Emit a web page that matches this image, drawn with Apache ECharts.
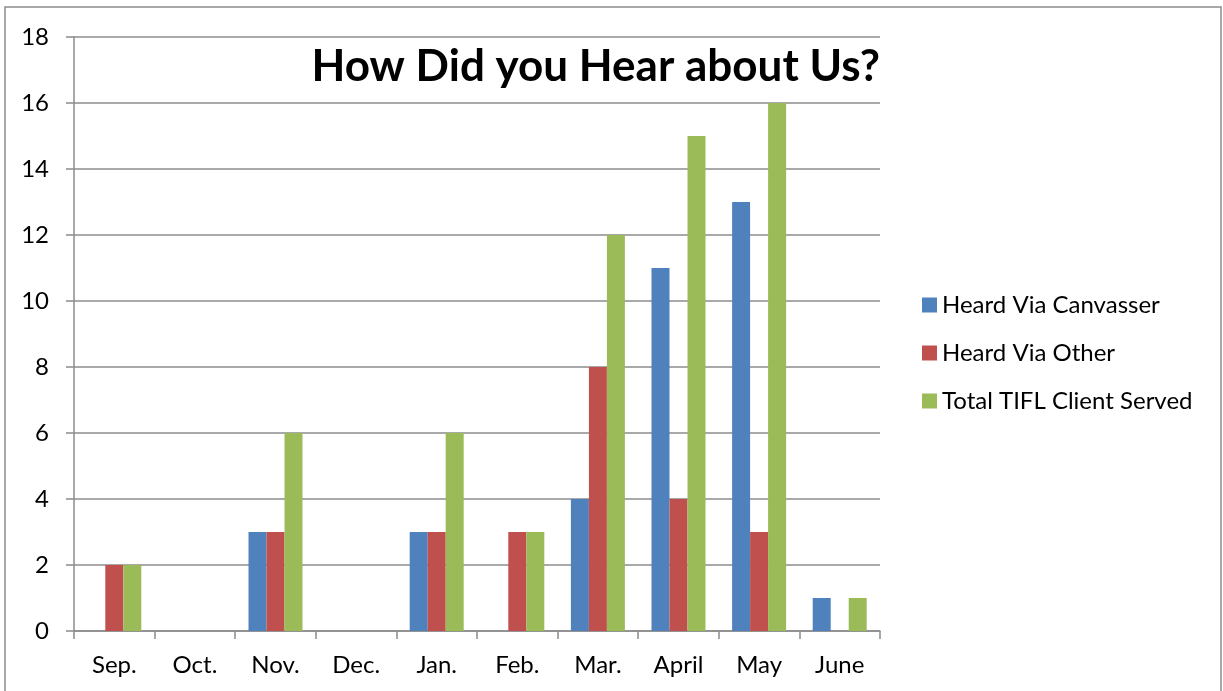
<!DOCTYPE html>
<html>
<head>
<meta charset="utf-8">
<script src="https://cdn.jsdelivr.net/npm/echarts@6/dist/echarts.min.js"></script>
<style>
  html, body { margin: 0; padding: 0; background: #fff; }
  #main { width: 1223px; height: 691px; }
</style>
</head>
<body>
<div id="main"></div>
<script>
const months = ["Sep.", "Oct.", "Nov.", "Dec.", "Jan.", "Feb.", "Mar.", "April", "May", "June"];
const canvasser = [null, null, 3, null, 3, null, 4, 11, 13, 1];
const other = [2, null, 3, null, 3, 3, 8, 4, 3, null];
const total = [2, null, 6, null, 6, 3, 12, 15, 16, 1];
const yTicks = { min: 0, max: 18, interval: 2 };

const FONT = "Lato";
const GRID_COLOR = "#8c8c8c";

const myChart = echarts.init(document.getElementById("main"));

const barSeries = (name, data, color) => ({
  name: name,
  type: "bar",
  data: data,
  barGap: "0%",
  barCategoryGap: "33%",
  itemStyle: { color: color }
});

const option = {
  animation: false,
  title: {
    text: "How Did you Hear about Us?",
    right: 343,
    top: 45,
    padding: 0,
    textStyle: { fontFamily: FONT, fontSize: 44, fontWeight: "bold", color: "#000" }
  },
  legend: {
    orient: "vertical",
    left: 922,
    top: 293,
    padding: 0,
    itemWidth: 15,
    itemHeight: 15,
    itemGap: 24,
    icon: "rect",
    textStyle: { fontFamily: FONT, fontSize: 24, lineHeight: 24, color: "#000", padding: [0, 0, 0, 0] },
    data: ["Heard Via Canvasser", "Heard Via Other", "Total TIFL Client Served"]
  },
  grid: { left: 74, right: 343, top: 37, bottom: 60 },
  xAxis: {
    type: "category",
    data: months,
    boundaryGap: true,
    axisLine: { lineStyle: { color: GRID_COLOR, width: 1.5 } },
    axisTick: { show: true, length: 8, lineStyle: { color: GRID_COLOR, width: 1.5 } },
    axisLabel: { fontFamily: FONT, fontSize: 24, color: "#000", margin: 22 }
  },
  yAxis: {
    type: "value",
    min: yTicks.min,
    max: yTicks.max,
    interval: yTicks.interval,
    axisLine: { show: true, lineStyle: { color: GRID_COLOR, width: 1.5 } },
    axisTick: { show: true, length: 8, lineStyle: { color: GRID_COLOR, width: 1.5 } },
    axisLabel: { fontFamily: FONT, fontSize: 24, color: "#000", margin: 25 },
    splitLine: { show: true, lineStyle: { color: GRID_COLOR, width: 1.5 } }
  },
  graphic: [
    {
      type: "rect",
      shape: { x: 5, y: 7, width: 1216, height: 700 },
      style: { fill: "none", stroke: "#8c8c8c", lineWidth: 1.5 },
      silent: true
    }
  ],
  series: [
    barSeries("Heard Via Canvasser", canvasser, "#4F81BD"),
    barSeries("Heard Via Other", other, "#C0504D"),
    barSeries("Total TIFL Client Served", total, "#9BBB59")
  ]
};

myChart.setOption(option);
</script>
</body>
</html>
